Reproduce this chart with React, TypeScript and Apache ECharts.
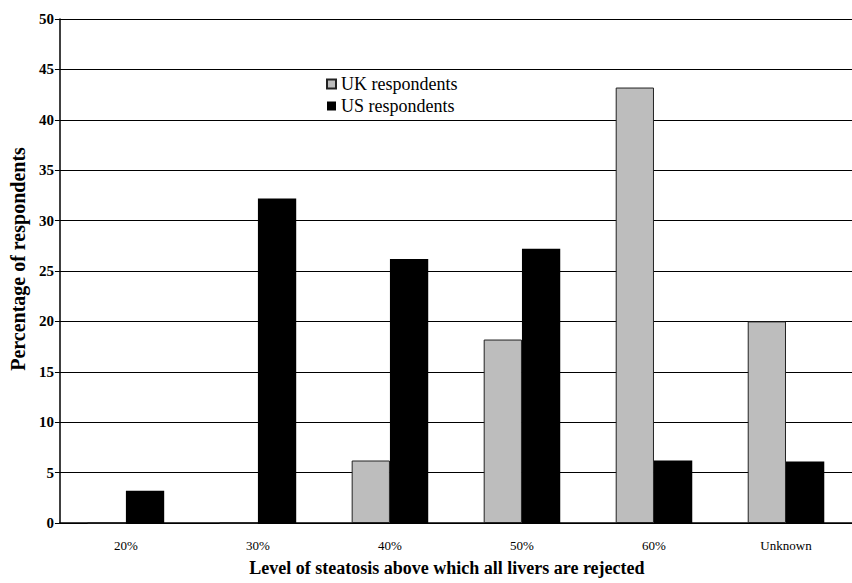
import React, { useEffect, useRef } from "react";
import * as echarts from "echarts";

const categories = ["20%", "30%", "40%", "50%", "60%", "Unknown"];
const ukValues = [0, 0, 6.2, 18.2, 43.2, 20];
const usValues = [3.2, 32.2, 26.2, 27.2, 6.2, 6.1];
const seriesNames = ["UK respondents", "US respondents"];
const yTitle = "Percentage of respondents";
const xTitle = "Level of steatosis above which all livers are rejected";

const FONT = "Times New Roman, Liberation Serif, DejaVu Serif, serif";

export default function App() {
  const ref = useRef<HTMLDivElement>(null);
  useEffect(() => {
    if (!ref.current) return;
    const chart = echarts.init(ref.current, null, { renderer: "svg" });
    chart.setOption({
      animation: false,
      backgroundColor: "#ffffff",
      textStyle: { fontFamily: FONT, color: "#000" },
      legend: {
        orient: "vertical",
        left: 321,
        top: 70,
        itemWidth: 9,
        itemHeight: 9,
        itemGap: 4,
        icon: "rect",
        textStyle: { fontFamily: FONT, fontSize: 18, color: "#000" },
        data: seriesNames,
      },
      grid: { left: 59, top: 19, width: 804, height: 504, containLabel: false },
      xAxis: {
        type: "category",
        data: categories,
        axisLine: { show: true, lineStyle: { color: "#000", width: 1.5 } },
        axisTick: { show: false },
        axisLabel: { fontFamily: FONT, fontSize: 13, color: "#000", margin: 16 },
        name: xTitle,
        nameLocation: "middle",
        nameGap: 36,
        nameTextStyle: { fontFamily: FONT, fontSize: 18, fontWeight: "bold", color: "#000", padding: [0, 0, 0, -18] },
      },
      yAxis: {
        type: "value",
        min: 0,
        max: 50,
        interval: 5,
        axisLine: { show: true, lineStyle: { color: "#000", width: 1.5 } },
        axisTick: { show: true, inside: false, length: 5, lineStyle: { color: "#000" } },
        axisLabel: { fontFamily: FONT, fontSize: 15, fontWeight: "bold", color: "#000", margin: 6 },
        splitLine: { show: true, lineStyle: { color: "#000", width: 1.2 } },
        name: yTitle,
        nameLocation: "middle",
        nameGap: 28,
        nameRotate: 90,
        nameTextStyle: { fontFamily: FONT, fontSize: 20, fontWeight: "bold", color: "#000", padding: [0, 0, 0, 24] },
      },
      series: [
        {
          name: seriesNames[0],
          type: "bar",
          data: ukValues,
          barGap: "0%",
          barCategoryGap: "42%",
          itemStyle: { color: "#bdbdbd", borderColor: "#222", borderWidth: 1 },
        },
        {
          name: seriesNames[1],
          type: "bar",
          data: usValues,
          barGap: "0%",
          barCategoryGap: "42%",
          itemStyle: { color: "#000" },
        },
      ],
    });
    return () => chart.dispose();
  }, []);
  return <div ref={ref} style={{ width: 852, height: 583, position: "absolute", left: 0, top: 0 }} />;
}
